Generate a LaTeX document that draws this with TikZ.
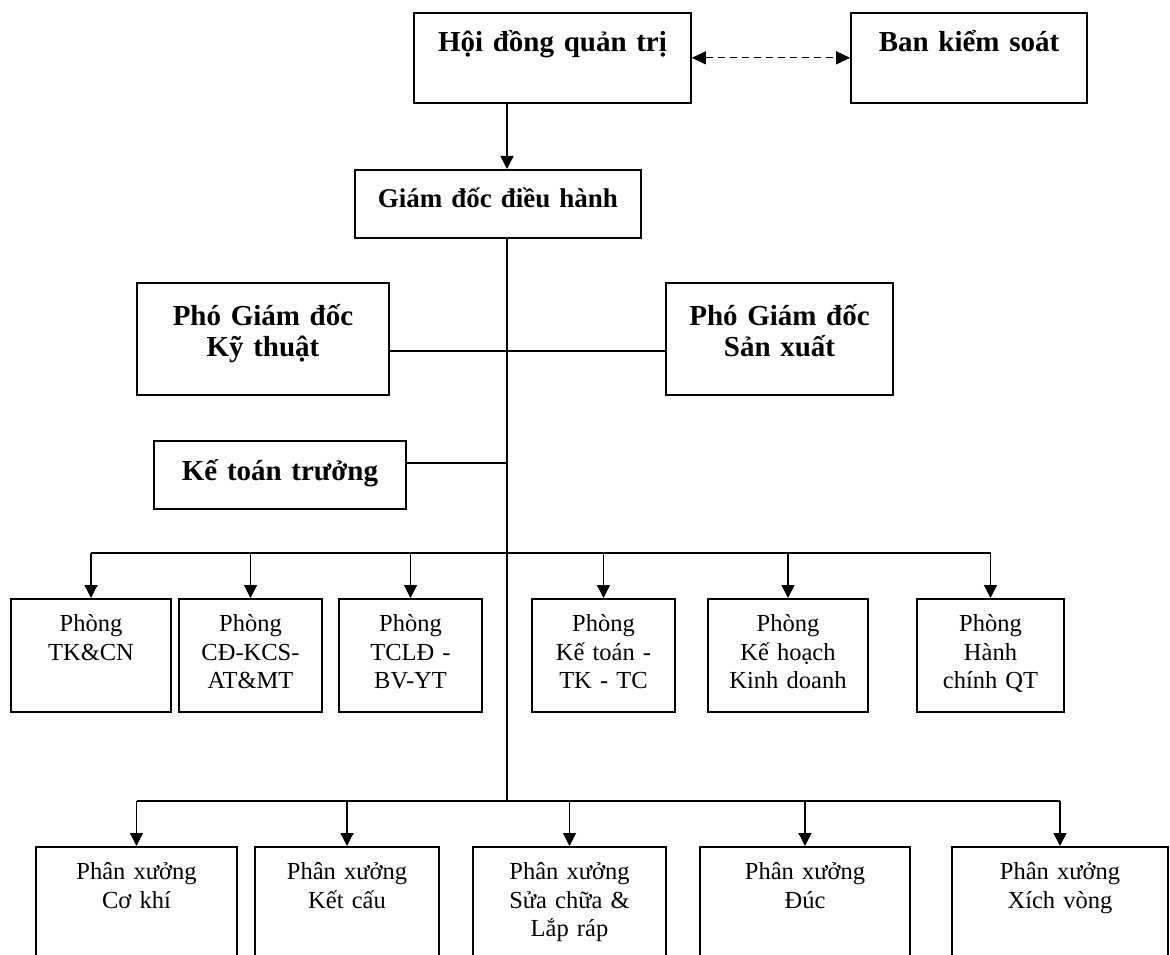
\documentclass[tikz,border=0pt]{standalone}
\usepackage{fontspec}
\setmainfont{Liberation Serif}
\usetikzlibrary{arrows.meta}

\begin{document}
\begin{tikzpicture}[x=1pt,y=-1pt,line width=1.3pt]
    \tikzstyle{boss} = [draw, line width=1.7pt, anchor=north, align=center, inner xsep=0pt, inner ysep=0pt, font=\bfseries\fontsize{29}{31}\selectfont]
    \tikzstyle{dept} = [draw, line width=1.7pt, anchor=north, align=center, inner xsep=0pt, inner ysep=0pt, text height=33pt, text depth=80pt, font=\fontsize{24.5}{28.5}\selectfont]
    \tikzstyle{shop} = [dept, text depth=140pt]
    \tikzstyle{arr} = [-{Triangle[length=13pt,width=13pt]}]
    \useasboundingbox (0,0) rectangle (1170,955);
    \clip (0,0) rectangle (1170,955);
    \coordinate (trunk) at (507,0);
    \coordinate (j1) at (507,351);
    \coordinate (j2) at (507,463);
    \coordinate (b1) at (507,553);
    \coordinate (b2) at (507,801);
    % top level
    \node (hdqt) at (552.5,12) [boss, text width=277pt, text height=39pt, text depth=51pt] {Hội đồng quản trị};
    \node (bks) at (969,12) [boss, text width=236pt, text height=39pt, text depth=51pt] {Ban kiểm soát};
    \node (gd) at (498,169) [boss, font=\bfseries\fontsize{27}{31}\selectfont, text width=286pt, text height=38pt, text depth=30pt] {Giám đốc điều hành};
    \node (pgdkt) at (263,282) [boss, text width=252pt, text height=43pt, text depth=69pt] {Phó Giám đốc\\Kỹ thuật};
    \node (pgdsx) at (779.5,282) [boss, text width=227pt, text height=43pt, text depth=69pt] {Phó Giám đốc\\Sản xuất};
    \node (ktt) at (280,440) [boss, text width=252pt, text height=40pt, text depth=28pt] {Kế toán trưởng};
    % phong ban
    \node (p1) at (91,598) [dept, text width=160pt] {Phòng\\TK\&CN};
    \node (p2) at (250.5,598) [dept, text width=143pt] {Phòng\\CĐ-KCS-\\AT\&MT};
    \node (p3) at (410.5,598) [dept, text width=143pt] {Phòng\\TCLĐ -\\BV-YT};
    \node (p4) at (603.5,598) [dept, text width=143pt] {Phòng\\Kế toán -\\TK - TC};
    \node (p5) at (788,598) [dept, text width=160pt] {Phòng\\Kế hoạch\\Kinh doanh};
    \node (p6) at (990.5,598) [dept, text width=147pt] {Phòng\\Hành\\chính QT};
    % phan xuong
    \node (x1) at (136.5,846) [shop, text width=201pt] {Phân xưởng\\Cơ khí};
    \node (x2) at (347,846) [shop, text width=184pt] {Phân xưởng\\Kết cấu};
    \node (x3) at (569.5,846) [shop, text width=193pt] {Phân xưởng\\Sửa chữa \&\\Lắp ráp};
    \node (x4) at (805,846) [shop, text width=210pt] {Phân xưởng\\Đúc};
    \node (x5) at (1060,846) [shop, text width=216pt] {Phân xưởng\\Xích vòng};

    \draw[dashed, dash pattern=on 7pt off 5pt, {Triangle[length=14pt,width=13pt]}-{Triangle[length=14pt,width=13pt]}] (hdqt.east) -- (bks.west);
    \draw[arr] (hdqt.south -| trunk) -- (gd.north -| trunk);
    \draw (gd.south -| trunk) -- (b2);
    \draw (pgdkt.east |- j1) -- (pgdsx.west |- j1);
    \draw (ktt.east |- j2) -- (j2);
    \draw (p1.north |- b1) -- (p6.north |- b1);
    \foreach \n in {p1,p2,p3,p4,p5,p6}
      \draw[arr] (\n.north |- b1) -- (\n.north);
    \draw (x1.north |- b2) -- (x5.north |- b2);
    \foreach \n in {x1,x2,x3,x4,x5}
      \draw[arr] (\n.north |- b2) -- (\n.north);
\end{tikzpicture}
\end{document}
